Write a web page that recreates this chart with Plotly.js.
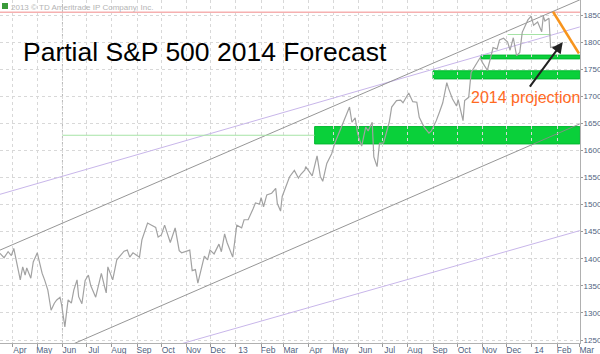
<!DOCTYPE html>
<html>
<head>
<meta charset="utf-8">
<script src="https://cdn.plot.ly/plotly-3.0.1.min.js"></script>
<style>html,body{margin:0;padding:0;background:#fff;}#chart{width:600px;height:354px;}</style>
</head>
<body>
<div id="chart"></div>
<script>
// ---- price series (S&P 500) ----
const dates = ['2012-03-16','2012-03-21','2012-03-26','2012-03-30','2012-04-02','2012-04-05','2012-04-10','2012-04-13','2012-04-16','2012-04-18','2012-04-23','2012-04-26','2012-05-01','2012-05-03','2012-05-07','2012-05-10','2012-05-14','2012-05-18','2012-05-22','2012-05-25','2012-05-29','2012-05-31','2012-06-04','2012-06-06','2012-06-08','2012-06-12','2012-06-15','2012-06-19','2012-06-21','2012-06-25','2012-06-29','2012-07-03','2012-07-06','2012-07-12','2012-07-17','2012-07-19','2012-07-23','2012-07-25','2012-07-27','2012-08-02','2012-08-07','2012-08-10','2012-08-16','2012-08-20','2012-08-23','2012-08-27','2012-08-31','2012-09-04','2012-09-07','2012-09-14','2012-09-19','2012-09-24','2012-09-27','2012-10-01','2012-10-05','2012-10-09','2012-10-12','2012-10-18','2012-10-23','2012-10-26','2012-11-05','2012-11-08','2012-11-12','2012-11-15','2012-11-20','2012-11-23','2012-11-27','2012-11-30','2012-12-05','2012-12-11','2012-12-14','2012-12-18','2012-12-21','2012-12-28','2013-01-02','2013-01-08','2013-01-11','2013-01-16','2013-01-22','2013-01-25','2013-01-30','2013-02-01','2013-02-04','2013-02-08','2013-02-14','2013-02-19','2013-02-21','2013-02-25','2013-02-27','2013-03-05','2013-03-08','2013-03-14','2013-03-19','2013-03-22','2013-03-27','2013-03-28','2013-04-05','2013-04-11','2013-04-15','2013-04-18','2013-04-23','2013-04-29','2013-05-03','2013-05-08','2013-05-15','2013-05-21','2013-05-24','2013-05-28','2013-05-31','2013-06-05','2013-06-10','2013-06-13','2013-06-18','2013-06-20','2013-06-24','2013-06-27','2013-07-02','2013-07-05','2013-07-09','2013-07-12','2013-07-18','2013-07-23','2013-07-26','2013-08-02','2013-08-07','2013-08-12','2013-08-15','2013-08-21','2013-08-27','2013-08-30','2013-09-05','2013-09-09','2013-09-13','2013-09-18','2013-09-20','2013-09-25','2013-09-30','2013-10-02','2013-10-08','2013-10-10','2013-10-15','2013-10-18','2013-10-22','2013-10-25','2013-10-29','2013-11-01','2013-11-07','2013-11-11','2013-11-14','2013-11-19','2013-11-22','2013-11-27','2013-12-02','2013-12-05','2013-12-09','2013-12-13','2013-12-17','2013-12-20','2013-12-24','2013-12-27','2013-12-31','2014-01-03','2014-01-08','2014-01-13','2014-01-15','2014-01-17','2014-01-22','2014-01-24','2014-01-28','2014-01-31'];
const closes = [1410,1402,1413,1406,1419,1398,1361,1385,1370,1383,1364,1394,1411,1398,1373,1361,1342,1305,1318,1324,1329,1315,1274,1300,1324,1318,1342,1361,1330,1317,1360,1370,1350,1329,1363,1373,1348,1337,1385,1361,1398,1403,1414,1416,1403,1411,1407,1403,1435,1466,1462,1458,1440,1444,1462,1441,1430,1457,1415,1411,1416,1378,1380,1355,1387,1405,1398,1416,1409,1427,1413,1446,1430,1403,1462,1457,1472,1472,1492,1503,1501,1513,1496,1518,1521,1530,1502,1488,1515,1540,1551,1563,1549,1556,1564,1570,1553,1590,1552,1543,1576,1594,1614,1632,1658,1680,1652,1660,1631,1608,1643,1636,1652,1588,1570,1613,1614,1631,1652,1680,1692,1693,1688,1706,1690,1689,1661,1643,1632,1636,1655,1671,1688,1725,1715,1695,1682,1694,1655,1692,1698,1744,1754,1759,1771,1762,1748,1771,1790,1787,1804,1807,1800,1785,1808,1775,1781,1818,1833,1841,1848,1831,1837,1819,1848,1839,1844,1790,1792,1782];

// ---- axis ticks ----
const tickDates = ['2012-04-01','2012-05-01','2012-06-01','2012-07-01','2012-08-01','2012-09-01','2012-10-01','2012-11-01','2012-12-01','2013-01-01','2013-02-01','2013-03-01','2013-04-01','2013-05-01','2013-06-01','2013-07-01','2013-08-01','2013-09-01','2013-10-01','2013-11-01','2013-12-01','2014-01-01','2014-02-01','2014-03-01'];
const tickLabels = ['Apr','May','Jun','Jul','Aug','Sep','Oct','Nov','Dec','13','Feb','Mar','Apr','May','Jun','Jul','Aug','Sep','Oct','Nov','Dec','14','Feb','Mar'];
const yTicks = [1250,1300,1350,1400,1450,1500,1550,1600,1650,1700,1750,1800,1850];

// ---- trend channels (value at left edge date, value at right edge date) ----
const channelDates = ['2012-03-16','2014-03-01'];
const upperBlack = [1416, 1878];
const lowerBlack = [1184, 1649];
const upperPurple = [1519, 1828];
const lowerPurple = [1148, 1452];
const resistanceLevel = 1855;

// ---- support bands ----
const bandStart = ['2013-04-08','2013-09-01','2013-10-30'];
const bandEnd = '2014-03-01';
const bandLow = [1612, 1732, 1769];
const bandHigh = [1644, 1747, 1776];

// ---- thin green support lines ----
const supportStart = ['2012-06-01','2013-12-02'];
const supportEnd = ['2013-04-08','2014-01-24'];
const supportLevel = [1628, 1814];

// ---- projection ----
const projDates = ['2014-01-27','2014-02-28'];
const projValues = [1856, 1779];
const arrowTail = ['2013-12-28', 1715];
const arrowHead = ['2014-02-08', 1800];
const markerDate = '2012-06-01';

const xRange = ['2012-03-16','2014-03-01 06:00'];
const yRange = [1244.5, 1877.7];

const traces = [];
function seg(x, y, color, width, dash) {
  traces.push({x: x, y: y, type: 'scatter', mode: 'lines', hoverinfo: 'skip', showlegend: false,
    line: {color: color, width: width, dash: dash || 'solid'}});
}
seg(xRange, [resistanceLevel, resistanceLevel], '#f6b0b0', 1.5);
seg(channelDates, upperPurple, '#c8b6ea', 1);
seg(channelDates, lowerPurple, '#c8b6ea', 1);
seg(channelDates, upperBlack, '#8a8a8a', 0.9);
seg(channelDates, lowerBlack, '#8a8a8a', 0.9);
for (let i = 0; i < supportLevel.length; i++) {
  seg([supportStart[i], supportEnd[i]], [supportLevel[i], supportLevel[i]], '#a6e3a6', 1);
}
traces.push({x: dates, y: closes, type: 'scatter', mode: 'lines', hoverinfo: 'skip', showlegend: false,
  line: {color: '#a2a2a2', width: 1.2}});
seg(projDates, projValues, '#f7941d', 2.5);

const shapes = [];
for (let i = 0; i < bandStart.length; i++) {
  shapes.push({type: 'rect', xref: 'x', yref: 'y', x0: bandStart[i], x1: bandEnd, y0: bandLow[i], y1: bandHigh[i],
    fillcolor: '#0ad03a', line: {color: '#02b830', width: 1}, layer: 'below'});
}
shapes.push({type: 'line', xref: 'x', yref: 'paper', x0: markerDate, x1: markerDate, y0: 0, y1: 1,
  line: {color: '#b8b8b8', width: 1, dash: 'dot'}, layer: 'below'});
shapes.push({type: 'rect', xref: 'paper', yref: 'paper', x0: 2/580, x1: 8/580, y0: 1 - 9/343, y1: 1 - 3/343,
  fillcolor: '#3a9a3a', line: {width: 0}});

const annotations = [
  {xref: 'paper', yref: 'paper', x: 21/580, y: 1 - 52/343, xanchor: 'left', yanchor: 'middle', showarrow: false,
   text: 'Partial S&amp;P 500 2014 Forecast', font: {family: 'Liberation Sans, Arial, sans-serif', size: 26.5, color: '#000'}},
  {xref: 'paper', yref: 'paper', x: 9/580, y: 1 - 7/343, xanchor: 'left', yanchor: 'middle', showarrow: false,
   text: '2013 © TD Ameritrade IP Company, Inc.', font: {family: 'Liberation Sans, Arial, sans-serif', size: 8, color: '#b4b4b4'}},
  {xref: 'x', yref: 'y', x: '2013-10-15', y: 1697, xanchor: 'left', yanchor: 'middle', showarrow: false,
   text: '2014 projection', font: {family: 'Liberation Sans, Arial, sans-serif', size: 16, color: '#ff6a1f'}},
  {xref: 'x', yref: 'y', axref: 'x', ayref: 'y', x: arrowHead[0], y: arrowHead[1], ax: arrowTail[0], ay: arrowTail[1],
   text: '', showarrow: true, arrowhead: 2, arrowsize: 1.1, arrowwidth: 2, arrowcolor: '#222'}
];

const axisFont = {family: 'Liberation Sans, Arial, sans-serif', size: 8.5, color: '#4f5f80'};
const yFont = {family: 'Liberation Sans, Arial, sans-serif', size: 8, color: '#4f5f80'};
const layout = {
  width: 600, height: 354,
  margin: {l: 0, r: 20, t: 0, b: 11},
  paper_bgcolor: '#fff', plot_bgcolor: '#fff',
  showlegend: false,
  xaxis: {type: 'date', range: xRange, tickmode: 'array', tickvals: tickDates, ticktext: tickLabels,
    showgrid: true, gridcolor: '#d8d8d8', griddash: 'dot', gridwidth: 1, zeroline: false,
    ticks: 'outside', ticklen: 3, tickcolor: '#999', showline: true, linecolor: '#b0b0b0', linewidth: 1,
    tickfont: axisFont, ticklabelshift: 7, ticklabelstandoff: -4, ticklabeloverflow: 'allow', fixedrange: true},
  yaxis: {side: 'right', range: yRange, tickmode: 'array', tickvals: yTicks,
    showgrid: true, gridcolor: '#d8d8d8', griddash: 'dot', gridwidth: 1, zeroline: false,
    ticks: 'outside', ticklen: 2, tickcolor: '#999', showline: true, mirror: true, linecolor: '#b0b0b0', linewidth: 1,
    tickfont: yFont, ticklabelstandoff: -1, ticklabeloverflow: 'allow', fixedrange: true},
  shapes: shapes,
  annotations: annotations
};
Plotly.newPlot('chart', traces, layout, {displayModeBar: false, staticPlot: true});
</script>
</body>
</html>
